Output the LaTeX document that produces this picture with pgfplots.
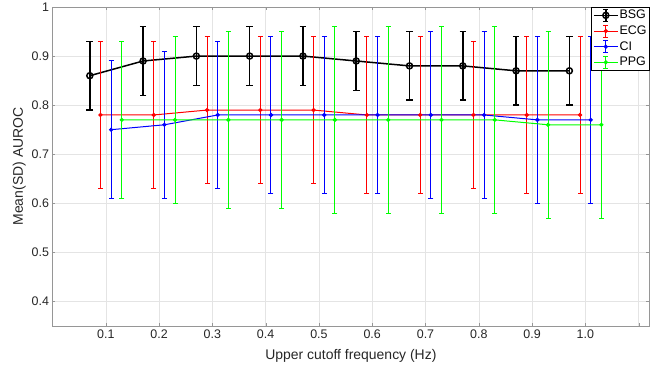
\documentclass[border=0pt]{standalone}
\usepackage{pgfplots}
\pgfplotsset{compat=1.18}
\usepackage{fontspec}
\setmainfont{Liberation Sans}
\definecolor{axgray}{RGB}{150,150,150}
\definecolor{txtgray}{RGB}{38,38,38}
\definecolor{gridgray}{RGB}{228,228,228}
\begin{document}
\begin{tikzpicture}[x=1bp,y=1bp]
\useasboundingbox (-52.5bp,-44bp) rectangle (604.5bp,326bp);
\begin{axis}[
  at={(0,0)}, anchor=south west,
  scale only axis, width=596.8bp, height=319bp,
  xmin=0, xmax=1.12, ymin=0.35, ymax=1,
  xtick={0.1,0.2,0.3,0.4,0.5,0.6,0.7,0.8,0.9,1.0,1.1},
  xticklabels={0.1,0.2,0.3,0.4,0.5,0.6,0.7,0.8,0.9,1.0,{}},
  ytick={0.4,0.5,0.6,0.7,0.8,0.9,1},
  yticklabels={0.4,0.5,0.6,0.7,0.8,0.9,1},
  tick pos=both, tick align=inside, major tick length=3bp,
  axis line style={axgray},
  tick style={axgray},
  grid=major, major grid style={gridgray, line width=0.5bp},
  ticklabel style={font=\fontsize{12.5}{13}\selectfont, text=txtgray},
  /pgf/number format/assume math mode=true,
  xlabel={Upper cutoff frequency (Hz)},
  ylabel={Mean(SD) AUROC},
  label style={font=\fontsize{14}{15}\selectfont, text=txtgray},
  xlabel style={yshift=-4bp},
  ylabel style={yshift=-1bp},
  legend style={at={(1,1)}, anchor=north east, font=\fontsize{12.5}{13}\selectfont, draw=black, line width=0.5bp, inner xsep=1.5bp, inner ysep=1bp, row sep=1.5bp, cells={anchor=west}, nodes={inner xsep=1bp}},
  legend image code/.code={
    \draw[#1, mark=none] (0bp,0bp) -- (24bp,0bp);
    \draw[#1, mark=none] (12bp,-6bp) -- (12bp,6bp);
    \draw[#1, mark=none] (9.5bp,-6bp) -- (14.5bp,-6bp);
    \draw[#1, mark=none] (9.5bp,6bp) -- (14.5bp,6bp);
    \draw[#1] plot coordinates {(12bp,0bp)};
  },
]
% BSG
\addplot[black, line width=1.5bp, mark=o, mark size=3bp,
  error bars/.cd, y dir=both, y explicit,
  error bar style={line width=1.5bp}, error mark options={rotate=90, mark size=3.3bp, line width=1.5bp}]
  table[x=x, y=y, y error=e] {
x y e
0.07 0.86 0.07
0.17 0.89 0.07
0.27 0.90 0.06
0.37 0.90 0.06
0.47 0.90 0.06
0.57 0.89 0.06
0.67 0.88 0.07
0.77 0.88 0.07
0.87 0.87 0.07
0.97 0.87 0.07
};
\addlegendentry{BSG}
% ECG
\addplot[red, line width=1bp, mark=*, mark size=1.6bp,
  error bars/.cd, y dir=both, y explicit,
  error bar style={line width=1bp}, error mark options={rotate=90, mark size=2.5bp, line width=1bp}]
  table[x=x, y=y, y error=e] {
x y e
0.09 0.78 0.15
0.19 0.78 0.15
0.29 0.79 0.15
0.39 0.79 0.15
0.49 0.79 0.15
0.59 0.78 0.16
0.69 0.78 0.16
0.79 0.78 0.15
0.89 0.78 0.16
0.99 0.78 0.16
};
\addlegendentry{ECG}
% CI
\addplot[blue, line width=1bp, mark=*, mark size=1.6bp,
  error bars/.cd, y dir=both, y explicit,
  error bar style={line width=1bp}, error mark options={rotate=90, mark size=2.5bp, line width=1bp}]
  table[x=x, y=y, y error=e] {
x y e
0.11 0.75 0.14
0.21 0.76 0.15
0.31 0.78 0.15
0.41 0.78 0.16
0.51 0.78 0.16
0.61 0.78 0.16
0.71 0.78 0.17
0.81 0.78 0.17
0.91 0.77 0.17
1.01 0.77 0.17
};
\addlegendentry{CI}
% PPG
\addplot[green, line width=1bp, mark=*, mark size=1.6bp,
  error bars/.cd, y dir=both, y explicit,
  error bar style={line width=1bp}, error mark options={rotate=90, mark size=2.5bp, line width=1bp}]
  table[x=x, y=y, y error=e] {
x y e
0.13 0.77 0.16
0.23 0.77 0.17
0.33 0.77 0.18
0.43 0.77 0.18
0.53 0.77 0.19
0.63 0.77 0.19
0.73 0.77 0.19
0.83 0.77 0.19
0.93 0.76 0.19
1.03 0.76 0.19
};
\addlegendentry{PPG}
\end{axis}
\end{tikzpicture}
\end{document}
